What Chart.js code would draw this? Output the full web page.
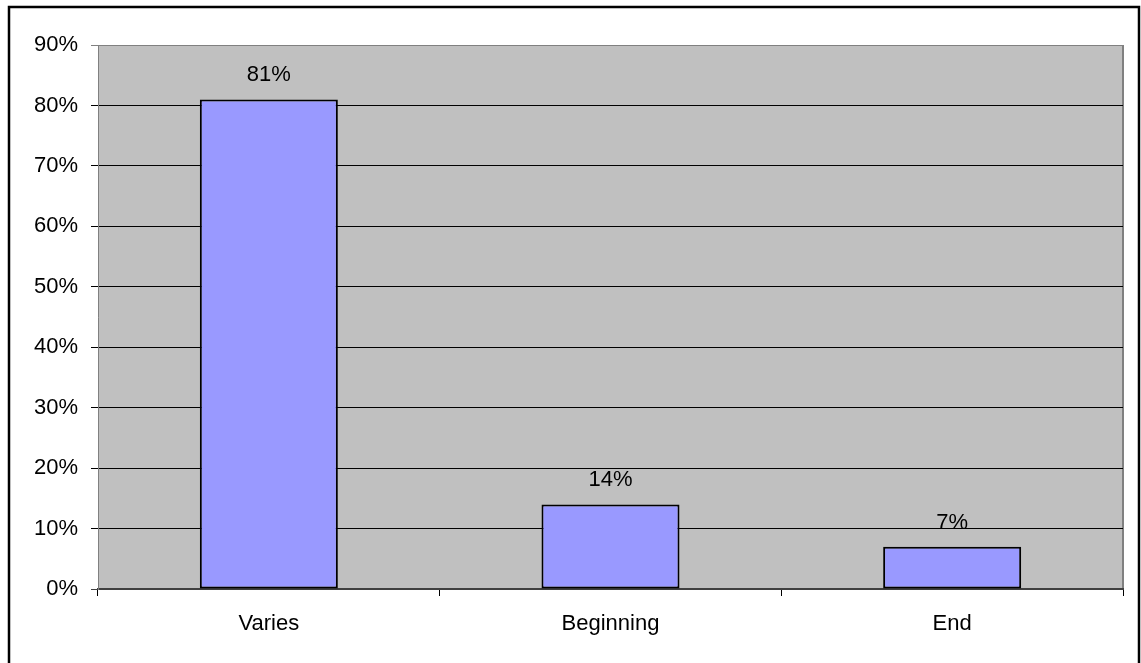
<!DOCTYPE html>
<html>
<head>
<meta charset="utf-8">
<script src="https://cdn.jsdelivr.net/npm/chart.js@4/dist/chart.umd.min.js"></script>
<style>
  html, body { margin: 0; padding: 0; background: #fff; }
  #wrap { width: 1141px; height: 663px; }
</style>
</head>
<body>
<div id="wrap"><canvas id="chart" width="1141" height="663"></canvas></div>
<script>
const categories = ['Varies', 'Beginning', 'End'];
const shares = [81, 14, 7];
const yTicks = [0, 10, 20, 30, 40, 50, 60, 70, 80, 90];

const FONT = { family: '"Liberation Sans", Arial, sans-serif', size: 22 };

// gray plot area, outer frame and value labels over each bar
const frame = {
  id: 'frame',
  beforeDraw(chart) {
    const { ctx, chartArea: a } = chart;
    ctx.save();
    ctx.fillStyle = '#c0c0c0';
    ctx.fillRect(a.left, a.top, a.right - a.left, a.bottom - a.top);
    ctx.strokeStyle = '#808080';
    ctx.lineWidth = 2;
    ctx.beginPath();
    ctx.moveTo(a.right, a.bottom);
    ctx.lineTo(a.right, a.top);
    ctx.stroke();
    ctx.strokeStyle = '#000';
    ctx.lineWidth = 2.5;
    ctx.strokeRect(9, 7, 1130, 700);
    ctx.restore();
  },
  afterDatasetsDraw(chart) {
    const { ctx } = chart;
    const meta = chart.getDatasetMeta(0);
    ctx.save();
    ctx.font = FONT.size + 'px ' + FONT.family;
    ctx.fillStyle = '#000';
    ctx.textAlign = 'center';
    ctx.textBaseline = 'alphabetic';
    meta.data.forEach((bar, i) => {
      ctx.fillText(shares[i] + '%', bar.x, bar.y - 18);
    });
    ctx.restore();
  }
};

new Chart(document.getElementById('chart'), {
  type: 'bar',
  data: {
    labels: categories,
    datasets: [{
      data: shares,
      backgroundColor: '#9999ff',
      borderColor: '#000',
      borderWidth: 2,
      borderSkipped: false,
      categoryPercentage: 1,
      barPercentage: 0.404
    }]
  },
  options: {
    responsive: false,
    animation: false,
    layout: { padding: { top: 45, right: 18, left: 0, bottom: 0 } },
    plugins: { legend: { display: false }, tooltip: { enabled: false } },
    scales: {
      x: {
        offset: true,
        grid: { offset: true, drawOnChartArea: false, tickLength: 7, color: '#000' },
        border: { display: true, color: '#404040', width: 2 },
        ticks: { color: '#000', font: FONT, padding: 15 },
        afterFit(s) { s.height = 74; }
      },
      y: {
        min: 0,
        max: 90,
        afterBuildTicks(s) { s.ticks = yTicks.map(v => ({ value: v })); },
        grid: {
          tickLength: 7,
          color: c => c.tick && c.tick.value === 90 ? '#808080' : (c.tick && c.tick.value === 0 ? '#404040' : '#000')
        },
        border: { display: true, color: '#808080', width: 1 },
        ticks: { color: '#000', font: FONT, padding: 13, callback: v => v + '%' },
        afterFit(s) { s.width = 98; }
      }
    }
  },
  plugins: [frame]
});
</script>
</body>
</html>
